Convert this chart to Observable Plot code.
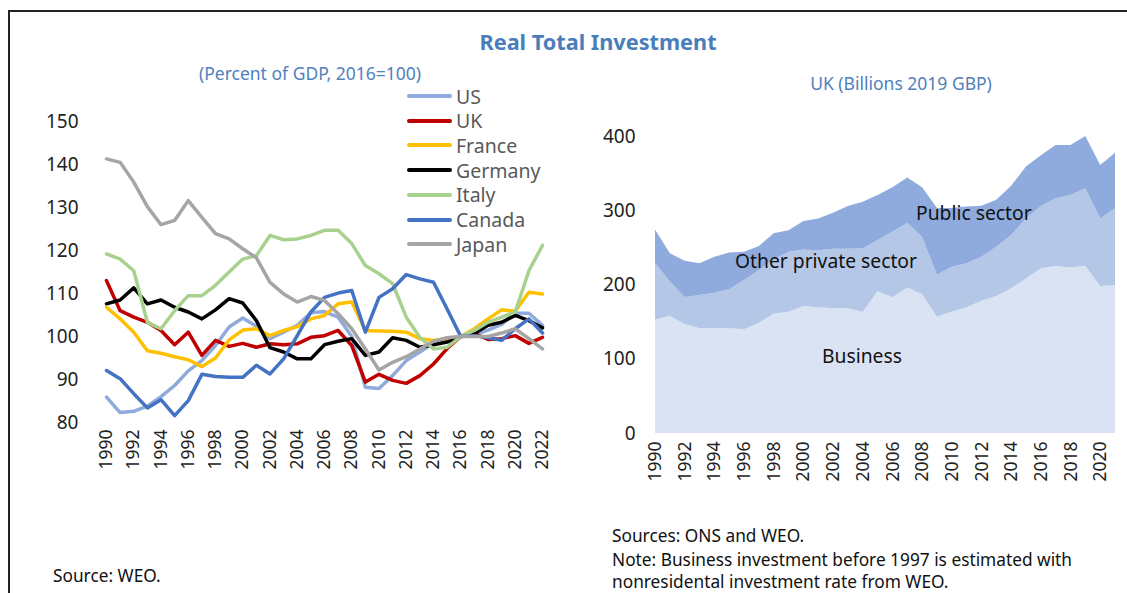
<!DOCTYPE html>
<html>
<head>
<meta charset="utf-8">
<script src="https://cdn.jsdelivr.net/npm/d3@7"></script>
<script src="https://cdn.jsdelivr.net/npm/@observablehq/plot@0.6"></script>
<style>
  html, body { margin: 0; padding: 0; background: #fff; }
  #root { position: relative; width: 1127px; height: 593px; overflow: hidden; font-family: "Noto Sans", sans-serif; }
  .abs { position: absolute; white-space: nowrap; }
  .frame { position: absolute; left: 8px; top: 10px; width: 1130px; height: 600px; border-top: 2px solid #222; border-left: 2px solid #222; }
  .title { color: #4A7EBB; font-weight: bold; font-size: 21.7px; }
  .sub { color: #4F81BD; font-size: 17.5px; }
  .leg { position: absolute; height: 20px; display: flex; align-items: center; font-size: 19.5px; color: #595959; }
  .leg span.sw { display: inline-block; width: 45px; height: 4px; border-radius: 2px; margin-right: 4px; }
  .ann { position: absolute; font-size: 19.3px; color: #111; white-space: nowrap; }
  .foot { position: absolute; font-size: 17.3px; line-height: 18px; color: #111; white-space: nowrap; }
  svg { position: absolute; top: 0; }
</style>
</head>
<body>
<div id="root">
  <div class="frame"></div>
  <div class="abs title" style="left:0;width:1196px;text-align:center;top:27px;">Real Total Investment</div>
  <div class="abs sub" style="left:0;width:620px;text-align:center;top:61px;">(Percent of GDP, 2016=100)</div>
  <div class="abs sub" style="left:0;width:1802px;text-align:center;top:71px;">UK (Billions 2019 GBP)</div>
</div>
<script>
// ---------- Left chart data ----------
const years = d3.range(1990, 2023);
const countries = ["US", "UK", "France", "Germany", "Italy", "Canada", "Japan"];
const countryColors = ["#8FAADC", "#C00000", "#FFC000", "#000000", "#A9D18E", "#4472C4", "#A5A5A5"];
const usVals = [85.9, 82.3, 82.6, 83.8, 86, 88.6, 92, 94.4, 97.9, 102.2, 104.3, 102.4, 99.5, 101, 102.6, 105.5, 105.8, 104.5, 100, 88.2, 87.9, 90.9, 94.4, 96.4, 98.4, 99.5, 100, 100.4, 101.5, 102.8, 105.4, 105.4, 102.6];
const ukVals = [113, 106, 104.5, 103.3, 101.4, 98.1, 101, 95.6, 99.1, 97.7, 98.4, 97.5, 98.3, 98.1, 98.3, 99.8, 100.2, 101.4, 97.9, 89.4, 91.2, 89.8, 89.1, 90.9, 93.6, 97.2, 100, 100.7, 99.3, 99.5, 100.2, 98.4, 99.8];
const franceVals = [106.8, 104.1, 101, 96.7, 96.1, 95.3, 94.6, 93, 95, 99.2, 101.5, 101.8, 100.2, 101.4, 102.3, 104.1, 104.9, 107.6, 108, 101.4, 101.3, 101.2, 101, 99.5, 99.1, 99.5, 100, 101.8, 104.1, 106.2, 105.9, 110.3, 109.9];
const germanyVals = [107.6, 108.5, 111.3, 107.6, 108.5, 106.8, 105.7, 104.1, 106.2, 108.8, 107.8, 103.7, 97.4, 96.4, 94.8, 94.8, 98.1, 98.9, 99.5, 95.6, 96.4, 99.7, 99.1, 97.5, 98.1, 98.7, 100, 100.7, 102.6, 103.3, 104.9, 103.7, 102];
const italyVals = [119.2, 118, 115.3, 103.3, 101.8, 106, 109.5, 109.5, 111.9, 115, 118, 118.8, 123.5, 122.5, 122.7, 123.5, 124.7, 124.7, 121.6, 116.5, 114.6, 112.3, 104.5, 99.8, 97.1, 97.5, 100, 101.4, 103.3, 104.5, 105.7, 115.3, 121.2];
const canadaVals = [92.1, 90.2, 86.7, 83.4, 85.3, 81.6, 85.1, 91.2, 90.7, 90.5, 90.5, 93.3, 91.3, 94.8, 100.2, 105.7, 109.1, 110.1, 110.7, 101, 109.1, 111.1, 114.4, 113.4, 112.6, 106.4, 100, 100.2, 99.7, 99.1, 101.8, 104.1, 100.8];
const japanVals = [141.3, 140.5, 135.9, 130.2, 126, 127, 131.6, 127.7, 123.9, 122.7, 120.4, 118.3, 112.6, 109.9, 108, 109.3, 108.4, 105.3, 101.8, 97.1, 92.2, 94, 95.3, 97.1, 98.9, 99.7, 100, 100, 100, 100.8, 101.8, 99.5, 97.1];
const leftXTicks = d3.range(1990, 2023, 2);
const leftYTicks = [80, 90, 100, 110, 120, 130, 140, 150];

// ---------- Right chart data ----------
const ukYears = d3.range(1990, 2022);
const ukSeries = ["Business", "Other private sector", "Public sector"];
const ukColors = ["#DAE3F3", "#B4C7E7", "#8FAADC"];
const businessVals = [153, 157.6, 146.8, 141, 141, 141, 139.7, 148.6, 161, 163.4, 171, 169.3, 168, 168, 163.4, 191, 182.7, 196, 187, 156.7, 163.4, 169.3, 178, 184.5, 195, 208, 221.8, 225, 223, 225, 198, 199];
const otherPrivateVals = [76, 46.4, 36.2, 45, 48, 52.5, 66.3, 70.9, 73, 80.6, 76, 76.7, 80, 80, 85.3, 69, 88.3, 87, 77, 56.3, 60.6, 59.2, 59.5, 66.5, 71.7, 81, 83.9, 91, 97.5, 104.5, 91, 103.6];
const publicVals = [45, 38, 49, 42.5, 48.5, 49.5, 38, 32.5, 35, 29, 38.5, 43, 48.7, 57.7, 62.8, 60.5, 60, 61, 67, 90, 79, 76.5, 68.5, 63, 66.3, 70, 68.3, 72, 67.5, 70.5, 72, 74.9];
const rightXTicks = d3.range(1990, 2021, 2);
const rightYTicks = [0, 100, 200, 300, 400];

const root = document.getElementById("root");

// Left: long table
const countryValues = [usVals, ukVals, franceVals, germanyVals, italyVals, canadaVals, japanVals];
const leftData = [];
countries.forEach((c, i) => years.forEach((y, j) => leftData.push({year: y, value: countryValues[i][j], country: c})));

const left = Plot.plot({
  width: 560, height: 500,
  marginLeft: 106, marginRight: 18, marginTop: 121, marginBottom: 78,
  style: {fontFamily: "Noto Sans", background: "transparent", overflow: "visible"},
  x: {domain: [1990, 2022]},
  y: {domain: [80, 150]},
  color: {domain: countries, range: countryColors},
  marks: [
    Plot.axisY({ticks: leftYTicks, tickSize: 0, tickPadding: 28, fontSize: 19, fill: "#222", label: null}),
    Plot.axisX({ticks: leftXTicks, tickSize: 0, tickPadding: 7, tickRotate: -90, fontSize: 17.5, fill: "#222", label: null, tickFormat: d => String(d)}),
    Plot.lineY(leftData, {x: "year", y: "value", z: "country", stroke: "country", strokeWidth: 3.5, strokeLinejoin: "round"})
  ]
});
left.style.left = "0px";
root.appendChild(left);

// Legend (HTML)
countries.forEach((c, i) => {
  const d = document.createElement("div");
  d.className = "leg";
  d.style.left = "407px";
  d.style.top = (86 + i * 24.7) + "px";
  d.innerHTML = `<span class="sw" style="background:${countryColors[i]}"></span>${c}`;
  root.appendChild(d);
});

// Right: stacked area
const ukValues = [businessVals, otherPrivateVals, publicVals];
const rightData = [];
ukSeries.forEach((s, i) => ukYears.forEach((y, j) => rightData.push({year: y, value: ukValues[i][j], series: s})));

const right = Plot.plot({
  width: 567, height: 520,
  marginLeft: 95, marginRight: 12, marginTop: 136, marginBottom: 87,
  style: {fontFamily: "Noto Sans", background: "transparent", overflow: "visible"},
  x: {domain: [1990, 2021]},
  y: {domain: [0, 400]},
  color: {domain: ukSeries, range: ukColors},
  marks: [
    Plot.areaY(rightData, {x: "year", y: "value", z: "series", fill: "series"}),
    Plot.axisY({ticks: rightYTicks, tickSize: 0, tickPadding: 20, fontSize: 19, fill: "#222", label: null}),
    Plot.axisX({ticks: rightXTicks, tickSize: 0, tickPadding: 8, tickRotate: -90, fontSize: 17.5, fill: "#222", label: null, tickFormat: d => String(d)})
  ]
});
right.style.left = "560px";
root.appendChild(right);

// Annotations & footers
const addText = (cls, txt, l, t) => { const d = document.createElement("div"); d.className = cls; d.textContent = txt; d.style.left = l + "px"; d.style.top = t + "px"; root.appendChild(d); };
addText("ann", "Business", 822, 342);
addText("ann", "Other private sector", 735, 247);
addText("ann", "Public sector", 916, 199);
addText("foot", "Source: WEO.", 53, 567);
addText("foot", "Sources: ONS and WEO.", 612, 527);
addText("foot", "Note: Business investment before 1997 is estimated with", 612, 551);
addText("foot", "nonresidental investment rate from WEO.", 612, 573);
</script>
</body>
</html>
